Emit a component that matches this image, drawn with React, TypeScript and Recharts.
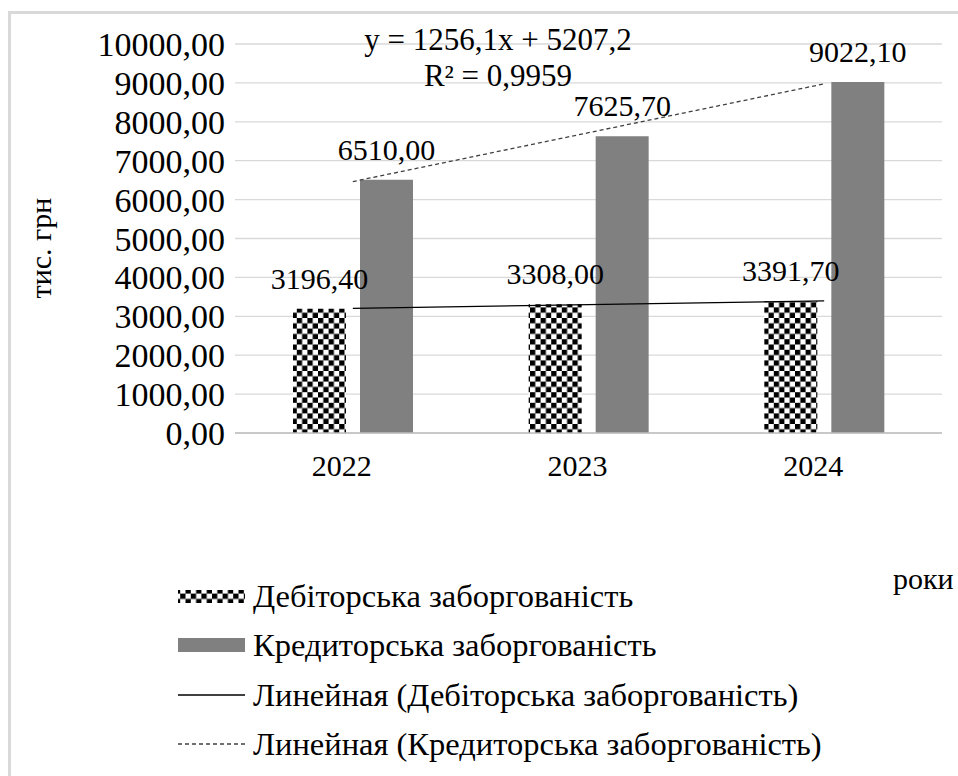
import React from "react"
import {
  ComposedChart,
  Bar,
  Line,
  XAxis,
  YAxis,
  CartesianGrid,
  LabelList,
} from "recharts"

const years = ["2022", "2023", "2024"]
const debit = [3196.4, 3308.0, 3391.7]
const credit = [6510.0, 7625.7, 9022.1]
// trend values
const debitTrend = [3202.1, 3299.8, 3397.4]
const creditTrend = [6463.3, 7719.3, 8975.4]
const yTicks = [0, 1000, 2000, 3000, 4000, 5000, 6000, 7000, 8000, 9000, 10000]

const legendItems = [
  "Дебіторська заборгованість",
  "Кредиторська заборгованість",
  "Линейная (Дебіторська заборгованість)",
  "Линейная (Кредиторська заборгованість)",
]

const rows = years.map((year, i) => ({
  year,
  debit: debit[i],
  credit: credit[i],
  debitTrend: debitTrend[i],
  creditTrend: creditTrend[i],
}))

const FONT = "Liberation Serif"
const fmt = (v: any) => Number(v).toFixed(2).replace(".", ",")

export default function App() {
  const legendY = [596, 645, 695, 744]
  return (
    <div
      style={{
        position: "absolute",
        left: 0,
        top: 0,
        width: 958,
        height: 776,
        overflow: "hidden",
        background: "#fff",
        fontFamily: FONT,
      }}
    >
      <div
        style={{
          position: "absolute",
          left: 8,
          top: 11,
          width: 1000,
          height: 1000,
          border: "3px solid #d9d9d9",
          boxSizing: "border-box",
        }}
      />
      <div style={{ position: "absolute", left: 0, top: 0 }}>
        <ComposedChart
          width={958}
          height={776}
          data={rows}
          margin={{ top: 44, right: 16, bottom: 283, left: 85 }}
          barGap={14}
        >
          <CartesianGrid vertical={false} stroke="#d9d9d9" strokeWidth={1.3} />
          <XAxis
            dataKey="year"
            axisLine={{ stroke: "#bfbfbf", strokeWidth: 1.3 }}
            tickLine={false}
            tickSize={0}
            tickMargin={22}
            height={60}
            tick={{ fontSize: 30, fill: "#000", fontFamily: FONT, dx: -11 }}
          />
          <YAxis
            width={150}
            domain={[0, 10000]}
            ticks={yTicks}
            tickFormatter={fmt}
            axisLine={false}
            tickLine={false}
            tickSize={0}
            tickMargin={10}
            interval={0}
            tick={{ fontSize: 34, fill: "#000", fontFamily: FONT }}
          />
          <Bar dataKey="debit" fill="url(#checker)" barSize={53} isAnimationActive={false}>
            <LabelList
              dataKey="debit"
              position="top"
              offset={20}
              formatter={fmt}
              fill="#000"
              style={{ fontSize: 30, fontFamily: FONT }}
            />
          </Bar>
          <Bar dataKey="credit" fill="#808080" barSize={53} isAnimationActive={false}>
            <LabelList
              dataKey="credit"
              position="top"
              offset={20}
              formatter={fmt}
              fill="#000"
              style={{ fontSize: 30, fontFamily: FONT }}
            />
          </Bar>
          <Line
            type="linear"
            dataKey="debitTrend"
            stroke="#000"
            strokeWidth={1.3}
            dot={false}
            activeDot={false}
            isAnimationActive={false}
          />
          <Line
            type="linear"
            dataKey="creditTrend"
            stroke="#404040"
            strokeWidth={1.3}
            strokeDasharray="4 3"
            dot={false}
            activeDot={false}
            isAnimationActive={false}
          />
        </ComposedChart>
      </div>
      <svg
        width={958}
        height={776}
        style={{ position: "absolute", left: 0, top: 0, pointerEvents: "none" }}
      >
        <defs>
          <pattern id="checker" width={10.6} height={10.6} patternUnits="userSpaceOnUse">
            <rect width={10.6} height={10.6} fill="#fff" />
            <rect width={5.3} height={5.3} fill="#000" />
            <rect x={5.3} y={5.3} width={5.3} height={5.3} fill="#000" />
          </pattern>
        </defs>

        <g fontFamily={FONT} fill="#000">
          <text x={498} y={50} fontSize={31} textAnchor="middle">y = 1256,1x + 5207,2</text>
          <text x={498} y={86} fontSize={31} textAnchor="middle">R² = 0,9959</text>
          <text x={893} y={589} fontSize={30}>роки</text>
          <text
            x={40}
            y={248}
            fontSize={30}
            textAnchor="middle"
            dominantBaseline="central"
            transform="rotate(-90 40 248)"
          >
            тис. грн
          </text>

          {/* legend */}
          <rect x={178} y={legendY[0] - 6} width={67} height={13} fill="url(#checker)" />
          <rect x={178} y={legendY[1] - 7} width={67} height={14} fill="#808080" />
          <line x1={178} x2={245} y1={legendY[2]} y2={legendY[2]} stroke="#000" strokeWidth={1.3} />
          <line
            x1={178}
            x2={245}
            y1={legendY[3]}
            y2={legendY[3]}
            stroke="#404040"
            strokeWidth={1.3}
            strokeDasharray="4 3"
          />
          {legendItems.map((t, i) => (
            <text key={t} x={253} y={legendY[i] + 11} fontSize={32.5}>
              {t}
            </text>
          ))}
        </g>
      </svg>
    </div>
  )
}
